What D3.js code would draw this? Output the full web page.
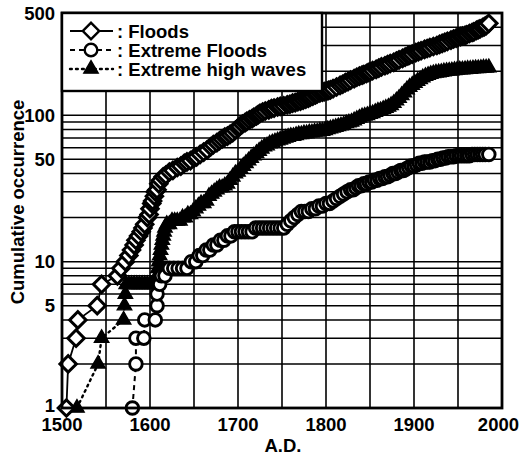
<!DOCTYPE html>
<html><head><meta charset="utf-8">
<script src="https://cdn.jsdelivr.net/npm/d3@7"></script>
<style>
body{margin:0;background:#fff}
text{font-family:"Liberation Sans",Arial,Helvetica,sans-serif;font-weight:bold;fill:#000}
</style>
</head><body>
<svg id="chart" width="521" height="456"></svg>
<script>
// ---- data ----
const floodYears=[1505,1507,1516,1518,1540,1545,1563,1567,1572,1576,1579,1582,1584,1587,1590,1592,1594,1597,1599,1600,1602,1603,1605,1606,1608,1610,1612,1615,1618,1622,1626,1631,1635,1639,1642,1646,1650,1653,1657,1661,1665,1669,1672,1676,1679,1682,1685,1688,1691,1694,1697,1700,1702,1705,1708,1710,1713,1716,1718,1721,1723,1725,1728,1731,1735,1738,1741,1745,1748,1752,1756,1759,1762,1765,1768,1771,1774,1777,1780,1782,1785,1788,1790,1793,1796,1798,1801,1803,1805,1808,1812,1816,1819,1822,1825,1828,1832,1835,1838,1841,1843,1846,1848,1850,1853,1857,1860,1863,1867,1870,1873,1877,1880,1883,1887,1890,1893,1895,1898,1902,1905,1908,1912,1915,1918,1922,1926,1929,1932,1935,1938,1942,1945,1948,1950,1953,1955,1958,1960,1963,1966,1968,1971,1973,1975,1978,1980,1982,1985];
const floodCounts=[1,2,3,4,5,7,8,9,10,11,12,13,14,15,16,17,18,20,21,23,25,26,28,30,31,34,36,38,39,41,42,44,45,47,48,49,51,52,54,56,58,61,63,65,67,69,71,72,74,76,79,82,84,87,89,91,93,95,97,99,101,103,105,107,109,111,112,114,115,116,118,119,121,122,124,125,127,129,131,133,135,138,140,142,144,145,147,148,149,152,156,160,163,167,170,174,178,182,185,188,190,193,196,198,202,206,210,214,218,222,226,230,235,239,245,250,255,258,262,268,272,276,282,286,290,295,300,305,310,315,320,326,332,337,340,345,348,352,355,362,368,372,380,385,390,398,403,410,425];

const extremeFloodYears=[1580,1584,1584,1593,1594,1606,1608,1608,1611,1613,1617,1622,1627,1632,1637,1642,1647,1652,1656,1660,1664,1668,1672,1676,1680,1684,1688,1692,1696,1700,1704,1708,1712,1716,1720,1724,1728,1732,1736,1740,1744,1748,1752,1756,1760,1764,1768,1772,1776,1780,1784,1788,1792,1796,1800,1804,1808,1812,1816,1820,1824,1828,1831,1834,1837,1840,1843,1846,1849,1852,1855,1858,1861,1864,1867,1870,1873,1876,1879,1882,1885,1888,1891,1894,1897,1900,1903,1906,1909,1912,1915,1918,1921,1924,1927,1930,1933,1936,1939,1942,1945,1948,1951,1954,1957,1960,1963,1966,1969,1972,1975,1978,1981,1985];
const extremeFloodCounts=[1,2,3,3,4,4,5,6,7,8,8,9,9,9,9,9,10,10,11,11,12,12,13,13,14,14,15,15,16,16,16,16,16,16,17,17,17,17,17,17,17,17,17,18,19,20,21,22,22,22,23,23,24,24,25,25,26,27,28,29,30,31,31,32,33,33,34,34,35,35,36,36,37,37,38,38,39,40,40,41,42,42,43,44,45,45,46,47,47,48,48,48,49,49,50,50,51,51,52,52,52,53,53,53,53,53,53,54,54,54,54,54,54,54];

const waveYears=[1517,1541,1545,1570,1571,1572,1573,1576,1579,1582,1585,1588,1591,1594,1597,1600,1603,1606,1608,1609,1610,1611,1612,1613,1614,1615,1616,1617,1619,1622,1625,1628,1631,1634,1637,1640,1643,1646,1649,1652,1655,1658,1661,1664,1667,1670,1673,1676,1679,1682,1685,1688,1691,1694,1697,1700,1703,1706,1709,1712,1715,1718,1721,1724,1727,1730,1733,1736,1739,1742,1745,1748,1751,1754,1757,1760,1763,1766,1769,1772,1775,1778,1781,1784,1787,1790,1793,1796,1799,1802,1805,1808,1811,1814,1817,1820,1823,1826,1829,1832,1835,1838,1841,1844,1847,1850,1853,1856,1859,1862,1865,1868,1871,1874,1877,1880,1883,1886,1889,1892,1895,1898,1901,1904,1907,1910,1913,1916,1919,1922,1925,1928,1931,1934,1937,1940,1943,1946,1949,1952,1955,1958,1961,1964,1967,1970,1973,1976,1979,1982,1985];
const waveCounts=[1,2,3,4,5,6,7,7,7,7,7,7,7,7,7,7,7,7,8,9,10,11,12,13,14,15,16,17,18,18,19,19,19,19,20,20,21,21,22,23,24,25,25,26,28,29,30,31,32,32,33,34,36,38,40,41,43,45,47,49,51,53,55,57,59,61,62,64,65,66,67,68,69,70,71,72,72,73,74,74,75,75,76,76,77,77,78,78,79,80,81,82,83,84,85,86,88,89,90,92,94,96,98,99,100,102,103,105,107,108,110,112,114,117,121,126,131,137,143,150,156,161,166,171,176,181,185,188,191,193,195,196,197,199,200,201,202,203,204,205,205,206,207,207,208,209,209,210,211,211,212];

const xTickLabels=[1500,1600,1700,1800,1900,2000];
const xGridYears=[1550,1600,1650,1700,1750,1800,1850,1900,1950];
const yTickLabels=[1,5,10,50,100,500];
const yGridValues=[2,3,4,5,6,7,8,9,10,20,30,40,50,60,70,80,90,100,200,300,400];
const legendLabels=[": Floods",": Extreme Floods",": Extreme high waves"];
const xTitle="A.D.";
const yTitle="Cumulative occurrence";

// ---- layout ----
const svg=d3.select("#chart");
const L=62,R=502,T=13,B=408;
const x=d3.scaleLinear().domain([1500,2000]).range([L,R]);
const y=d3.scaleLog().domain([1,500]).range([B,T]);

// grid
const g=svg.append("g");
g.selectAll(".vg").data(xGridYears).join("line")
 .attr("x1",d=>x(d)).attr("x2",d=>x(d)).attr("y1",T).attr("y2",B)
 .attr("stroke","#000").attr("stroke-width",1.6);
g.selectAll(".hg").data(yGridValues).join("line")
 .attr("x1",L).attr("x2",R).attr("y1",d=>y(d)).attr("y2",d=>y(d))
 .attr("stroke","#000").attr("stroke-width",1.5);

// series definitions
const series=[
 {name:"waves",data:d3.zip(waveYears,waveCounts),dash:"1.8,4.2",width:2.4,cap:"round",
  sym:d3.symbol(d3.symbolTriangle,90)(),rot:0,fill:"#000",sw:1.4},
 {name:"extreme",data:d3.zip(extremeFloodYears,extremeFloodCounts),dash:"5,4",width:2,cap:"butt",
  sym:d3.symbol(d3.symbolCircle,125)(),rot:0,fill:"#fff",sw:2.9},
 {name:"floods",data:d3.zip(floodYears,floodCounts),dash:null,width:1.8,cap:"butt",
  sym:d3.symbol(d3.symbolSquare,135)(),rot:45,fill:"#fff",sw:3}
];
const line=d3.line().x(d=>x(d[0])).y(d=>y(d[1]));
series.forEach(s=>{
 svg.append("path").attr("d",line(s.data)).attr("fill","none").attr("stroke","#000")
  .attr("stroke-width",s.width).attr("stroke-dasharray",s.dash).attr("stroke-linecap",s.cap);
});
series.forEach(s=>{
 svg.append("g").selectAll("path").data(s.data).join("path")
  .attr("d",s.sym)
  .attr("transform",d=>`translate(${x(d[0])},${y(d[1])}) rotate(${s.rot})`)
  .attr("fill",s.fill).attr("stroke","#000").attr("stroke-width",s.sw);
});

// frame
svg.append("rect").attr("x",L).attr("y",T).attr("width",R-L).attr("height",B-T)
 .attr("fill","none").attr("stroke","#000").attr("stroke-width",2.8);

// legend
svg.append("rect").attr("x",L).attr("y",T).attr("width",260).attr("height",78)
 .attr("fill","#fff").attr("stroke","#000").attr("stroke-width",2.4);
const legRows=[31,50,69];
const legOrder=[2,1,0];
legOrder.forEach((si,i)=>{
 const s=series[si], ly=legRows[i];
 svg.append("line").attr("x1",70).attr("x2",113).attr("y1",ly).attr("y2",ly)
  .attr("stroke","#000").attr("stroke-width",s.width).attr("stroke-dasharray",s.dash).attr("stroke-linecap",s.cap);
 svg.append("path").attr("d",s.sym).attr("transform",`translate(91,${ly}) rotate(${s.rot})`)
  .attr("fill",s.fill).attr("stroke","#000").attr("stroke-width",Math.min(s.sw,2.4));
 svg.append("text").attr("x",117).attr("y",ly+6.5).attr("font-size",18.5).text(legendLabels[i]);
});

// ticks
svg.selectAll(".xt").data(xTickLabels).join("text")
 .attr("x",d=>d===2000?519:x(d)).attr("y",431)
 .attr("text-anchor",d=>d===2000?"end":"middle").attr("font-size",18.5).text(d=>d);
svg.selectAll(".yt").data(yTickLabels).join("text")
 .attr("x",55).attr("y",d=>y(d)+(d===1?4:6.5)).attr("text-anchor","end").attr("font-size",18.5).text(d=>d);

// titles
svg.append("text").attr("x",(L+R)/2+1).attr("y",452).attr("text-anchor","middle").attr("font-size",18.5).text(xTitle);
svg.append("text").attr("transform","translate(24,202) rotate(-90)").attr("text-anchor","middle")
 .attr("font-size",18.5).text(yTitle);
</script>
</body></html>
